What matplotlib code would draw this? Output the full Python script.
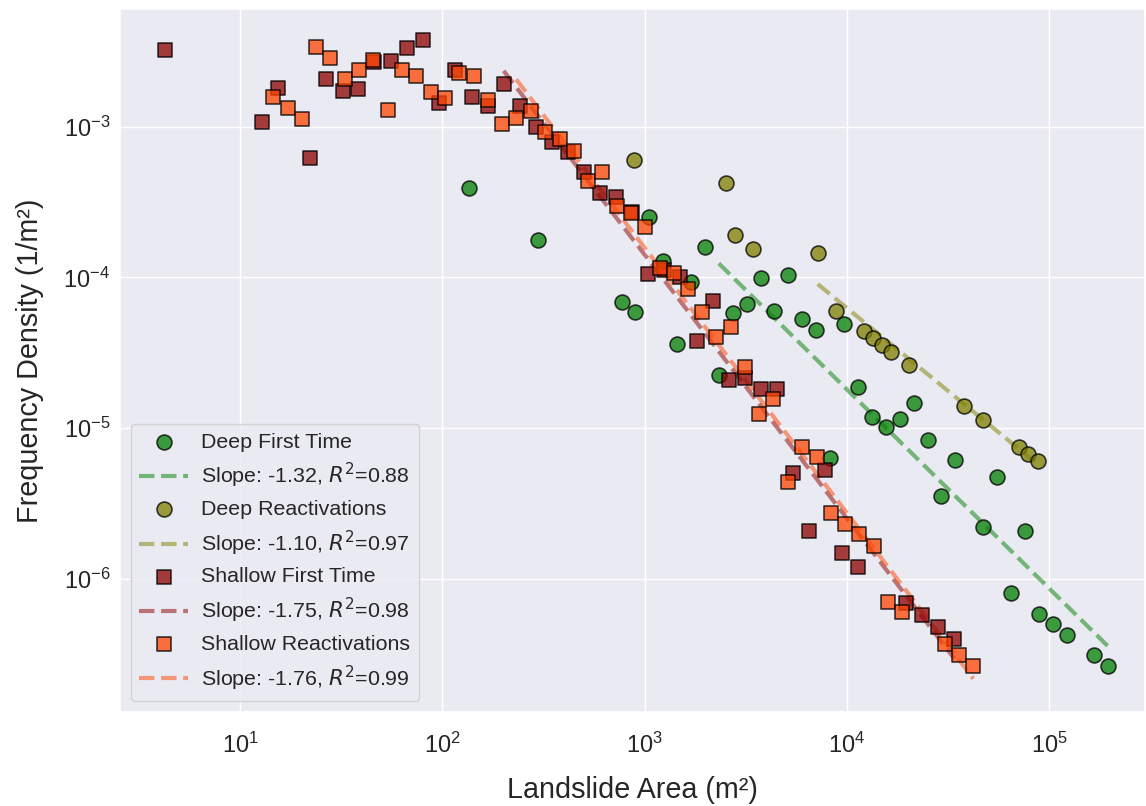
import matplotlib
matplotlib.use("Agg")
import matplotlib.pyplot as plt
import seaborn as sns
import numpy as np

# landslide frequency-area data (binned)
deep_first_area = [134.9, 298.1, 768.9, 901.6, 1057, 1230, 1449, 1704, 1984, 2326,
                   2728, 3199, 3751, 4368, 5123, 5996, 7044, 8260, 9665, 11310,
                   13320, 15620, 18240, 21380, 25070, 29310, 34240, 47100, 55240, 64750,
                   75600, 88640, 103900, 121900, 167000, 195900]
deep_first_freq = [3.92e-4, 1.77e-4, 6.87e-5, 5.87e-5, 2.52e-4, 1.285e-4, 3.63e-5, 9.32e-5, 1.59e-4, 2.25e-5,
                   5.83e-5, 6.66e-5, 9.91e-5, 6.01e-5, 1.032e-4, 5.27e-5, 4.48e-5, 6.36e-6, 4.91e-5, 1.865e-5,
                   1.19e-5, 1.012e-5, 1.149e-5, 1.474e-5, 8.38e-6, 3.56e-6, 6.14e-6, 2.22e-6, 4.74e-6, 8.09e-7,
                   2.076e-6, 5.87e-7, 5.01e-7, 4.28e-7, 3.12e-7, 2.65e-7]

deep_react_area = [888.6, 2531, 2804, 3451, 7174, 8843, 12100, 13470, 14860, 16540,
                   20360, 37940, 46880, 70930, 78860, 87630]
deep_react_freq = [5.98e-4, 4.23e-4, 1.90e-4, 1.543e-4, 1.463e-4, 6.01e-5, 4.41e-5, 3.98e-5, 3.58e-5, 3.21e-5,
                   2.61e-5, 1.401e-5, 1.126e-5, 7.46e-6, 6.73e-6, 6.05e-6]

shallow_first_area = [4.28, 12.84, 15.41, 22.17, 26.72, 32.17, 38.46, 46.13, 55.54, 66.86,
                      80.2, 96.2, 115.4, 140.0, 167.4, 200.9, 240.9, 289.1, 349.6, 417.5,
                      500.7, 603.5, 723.8, 868.5, 1042, 1254, 1504, 1811, 2173, 2606,
                      3141, 3768, 4520, 5398, 6526, 7831, 9425, 11310, 19670, 23530,
                      28310, 33970]
shallow_first_freq = [3.23e-3, 1.075e-3, 1.798e-3, 6.17e-4, 2.063e-3, 1.725e-3, 1.788e-3, 2.70e-3, 2.742e-3, 3.313e-3,
                      3.778e-3, 1.43e-3, 2.377e-3, 1.581e-3, 1.378e-3, 1.926e-3, 1.372e-3, 1.0e-3, 7.95e-4, 6.83e-4,
                      4.98e-4, 3.65e-4, 3.43e-4, 2.70e-4, 1.048e-4, 1.12e-4, 1.01e-4, 3.785e-5, 6.97e-5, 2.085e-5,
                      2.16e-5, 1.81e-5, 1.81e-5, 5.01e-6, 2.085e-6, 5.25e-6, 1.483e-6, 1.192e-6, 6.88e-7, 5.75e-7,
                      4.77e-7, 3.97e-7]

shallow_react_area = [14.62, 17.21, 20.25, 23.85, 27.97, 33.02, 38.72, 45.62, 53.66, 63.15,
                      74.37, 87.85, 103.0, 121.3, 142.8, 168.0, 197.0, 232.1, 273.1, 322.8,
                      379.7, 446.9, 524.1, 617.4, 726.3, 858.7, 1007, 1185, 1394, 1635,
                      1917, 2266, 2667, 3141, 3696, 4332, 5099, 6004, 7093, 8337,
                      9831, 11530, 13570, 15990, 18750, 30560, 35950, 42170]
shallow_react_freq = [1.574e-3, 1.331e-3, 1.13e-3, 3.38e-3, 2.857e-3, 2.082e-3, 2.367e-3, 2.759e-3, 1.285e-3, 2.367e-3,
                      2.16e-3, 1.699e-3, 1.557e-3, 2.282e-3, 2.16e-3, 1.504e-3, 1.039e-3, 1.137e-3, 1.271e-3, 9.26e-4,
                      8.25e-4, 6.93e-4, 4.36e-4, 5.03e-4, 2.977e-4, 2.662e-4, 2.15e-4, 1.16e-4, 1.064e-4, 8.34e-5,
                      5.87e-5, 4.0e-5, 4.69e-5, 2.555e-5, 1.235e-5, 1.56e-5, 4.41e-6, 7.52e-6, 6.40e-6, 2.72e-6,
                      2.31e-6, 1.977e-6, 1.663e-6, 7.05e-7, 6.02e-7, 3.69e-7, 3.12e-7, 2.65e-7]

# power-law fits: slope, prefactor, r2, minimum area used in fit
fit_slopes = [-1.32, -1.10, -1.75, -1.76]
fit_prefactors = [3.447, 1.576, 25.2, 30.06]
fit_r2 = [0.88, 0.97, 0.98, 0.99]
fit_xmin = [2326, 7174, 200.9, 232.1]

names = ['Deep First Time', 'Deep Reactivations', 'Shallow First Time', 'Shallow Reactivations']
colors = ['green', 'olive', 'darkred', 'orangered']
markers = ['o', 'o', 's', 's']

sns.set_theme(style='darkgrid')
plt.rcParams['font.family'] = ['Liberation Sans', 'DejaVu Sans']

fig = plt.figure(figsize=(11.46, 8.06), dpi=100)
ax = fig.add_axes([0.1047, 0.1166, 0.8945, 0.8722])

datasets = [(deep_first_area, deep_first_freq), (deep_react_area, deep_react_freq),
            (shallow_first_area, shallow_first_freq), (shallow_react_area, shallow_react_freq)]

for i, (area, freq) in enumerate(datasets):
    area = np.array(area)
    ax.scatter(area, freq, s=115, c=colors[i], marker=markers[i], alpha=0.75,
               edgecolors='black', linewidths=1.2, label=names[i], zorder=3)
    xfit = area[area >= fit_xmin[i]]
    yfit = fit_prefactors[i] * xfit ** fit_slopes[i]
    ax.plot(xfit, yfit, '--', color=colors[i], alpha=0.5, lw=3, zorder=2,
            label=f'Slope: {fit_slopes[i]:.2f}, $R^2$={fit_r2[i]:.2f}')

ax.set_xscale('log')
ax.set_yscale('log')
ax.set_xlim(2.55, 2.98e5)
ax.set_ylim(1.31e-7, 6.04e-3)
ax.set_xlabel('Landslide Area (m²)', fontsize=20.7, labelpad=13)
ax.set_ylabel('Frequency Density (1/m²)', fontsize=20.7, labelpad=14)
ax.tick_params(labelsize=17)
ax.tick_params(axis='x', pad=9)
ax.tick_params(axis='y', pad=1)
ax.legend(loc='lower left', fontsize=15.4, handlelength=2.3, handletextpad=0.6,
          labelspacing=0.45)

fig.savefig('out.png', dpi=100)
